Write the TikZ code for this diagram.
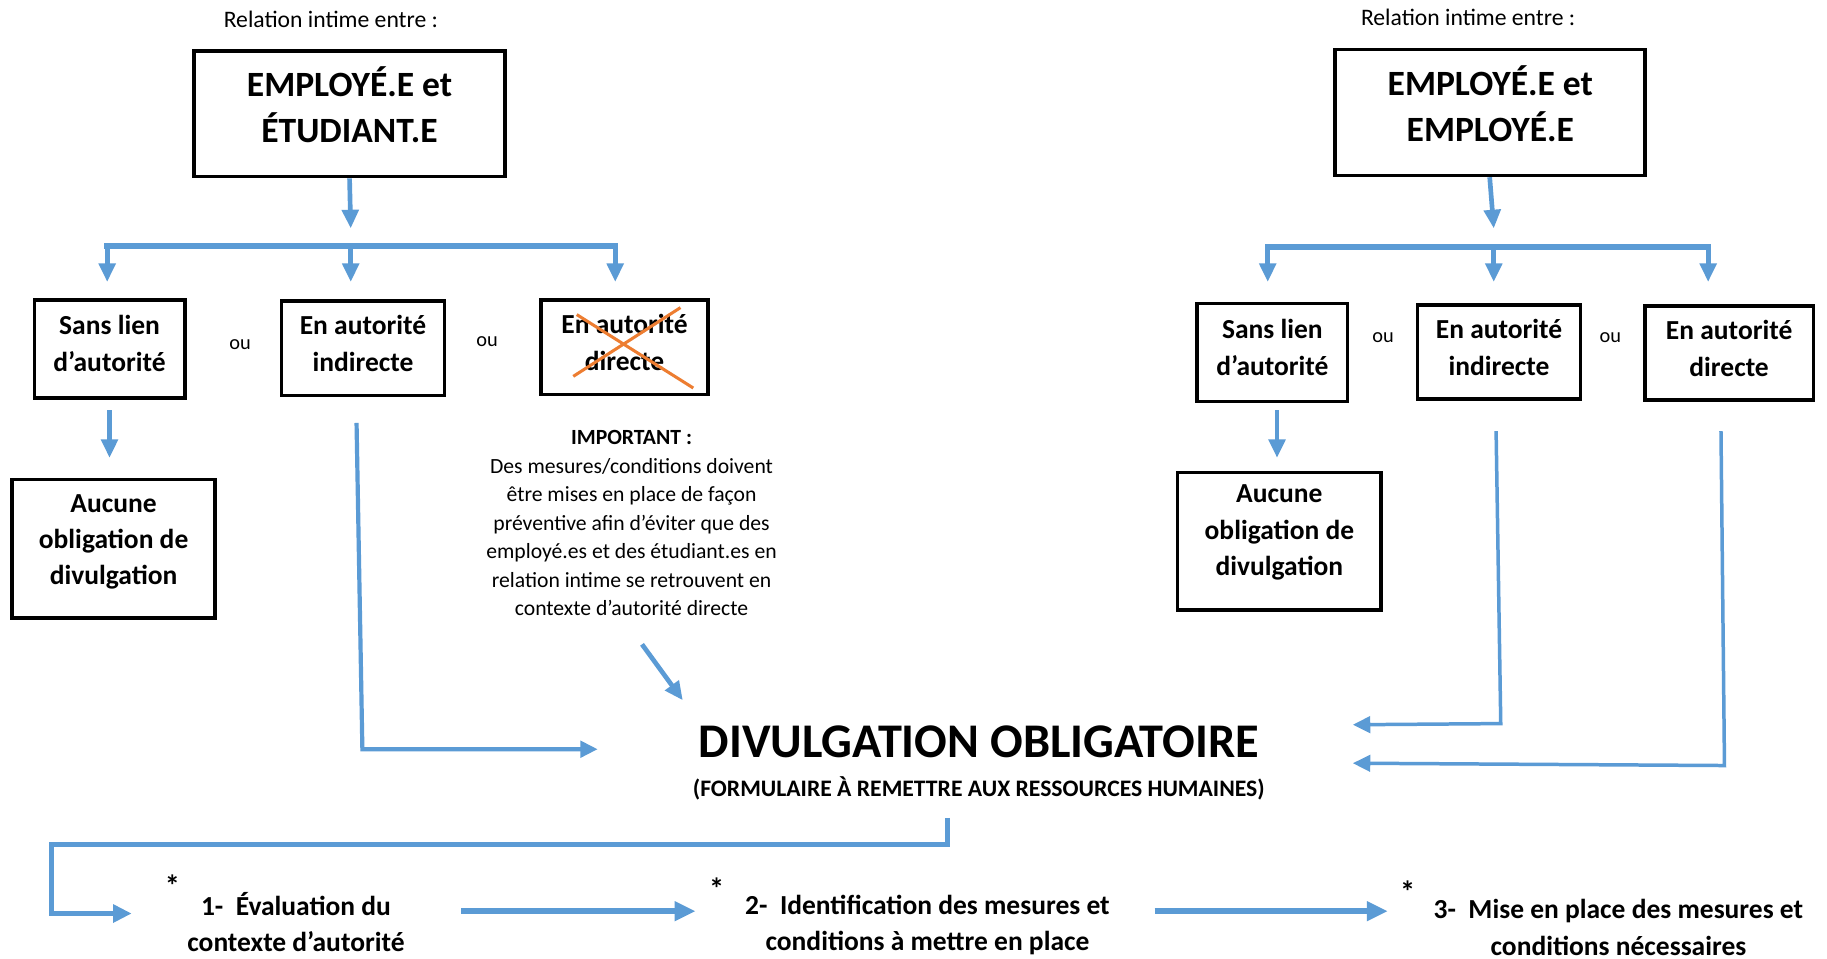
\documentclass[tikz,border=0pt]{standalone}
\usepackage{fontspec}
\setmainfont{Carlito}
\usetikzlibrary{arrows.meta}
\definecolor{blu}{HTML}{5B9BD5}
\definecolor{orng}{HTML}{ED7D31}
\begin{document}
\begin{tikzpicture}[x=1pt,y=-1pt,
  box/.style={draw=black,line width=3.2pt,inner sep=0pt},
  bigt/.style={font=\bfseries\fontsize{30.5}{40}\selectfont,align=center,inner sep=0pt},
  midt/.style={font=\bfseries\fontsize{23.6}{32}\selectfont,align=center,inner sep=0pt},
  smallt/.style={font=\fontsize{20.3}{22}\selectfont,inner sep=0pt},
  outext/.style={font=\fontsize{17.5}{20}\selectfont,inner sep=0pt},
  stept/.style={font=\bfseries\fontsize{23.6}{31}\selectfont,align=center,inner sep=0pt},
  star/.style={font=\bfseries\fontsize{26}{26}\selectfont,inner sep=0pt},
  arr/.style={draw=blu,line width=4pt,-{Triangle[length=16pt,width=14pt]}},
  bar/.style={draw=blu,line width=5pt,line cap=rect},
  lnarr/.style={draw=blu,line width=3.6pt,line join=miter,-{Triangle[length=15pt,width=14pt]}},
  bigarr/.style={draw=blu,line width=5.5pt,-{Triangle[length=18pt,width=16pt]}},
  cross/.style={draw=orng,line width=2.6pt}]
\useasboundingbox (0,0) rectangle (1568,823);
\fill[white] (0,0) rectangle (1568,823);

% ---------------- left tree ----------------
\node[smallt] (Lrel) at (284,17) {Relation intime entre :};
\node[box,minimum width=267pt,minimum height=108pt] (L1) at (300,97.5) {};
\node[bigt] (L1t) at (300,90) {EMPLOYÉ.E et\\ÉTUDIANT.E};

\node[box,minimum width=129pt,minimum height=84pt] (L2a) at (94,299.5) {};
\node[midt] (L2at) at (94,295) {Sans lien\\d’autorité};
\node[outext] (Lou1) at (206,296) {ou};
\node[box,minimum width=140pt,minimum height=81pt] (L2b) at (311.5,299) {};
\node[midt] (L2bt) at (311.5,295) {En autorité\\indirecte};
\node[outext] (Lou2) at (418,293) {ou};
\node[box,minimum width=143pt,minimum height=81pt] (L2c) at (536,298) {};
\node[midt] (L2ct) at (536,294) {En autorité\\directe};
\draw[cross] (495,270) -- (595,333);
\draw[cross] (492,323) -- (584,264);

\node[box,minimum width=174pt,minimum height=119pt] (L3) at (97.5,471) {};
\node[midt,font=\bfseries\fontsize{23.6}{31}\selectfont] (L3t) at (97.5,465) {Aucune\\obligation de\\divulgation};

\coordinate (Lsplit) at (301,196);
\draw[arr] (L1.south) -- (Lsplit);
\coordinate (Lb1) at (92,211);
\coordinate (Lb2) at (301,211);
\coordinate (Lb3) at (528,211);
\draw[bar] (Lb1) -- (Lb3);
\coordinate (La1) at (92,242);
\coordinate (La2) at (301,242);
\coordinate (La3) at (528,242);
\draw[arr] (Lb1) -- (La1);
\draw[arr] (Lb2) -- (La2);
\draw[arr] (Lb3) -- (La3);
\coordinate (Ld1) at (94,352);
\coordinate (Ld2) at (94,393);
\draw[arr] (Ld1) -- (Ld2);

\coordinate (Li1) at (306,363);
\coordinate (Li2) at (311,643);
\coordinate (Li3) at (513,643);
\draw[lnarr] (Li1) -- (Li2) -- (Li3);

\node[font=\fontsize{18.6}{24.4}\selectfont,align=center,inner sep=0pt] (Imp) at (542,449)
 {\textbf{IMPORTANT :}\\Des mesures/conditions doivent\\être mises en place de façon\\préventive afin d’éviter que des\\employé.es et des étudiant.es en\\relation intime se retrouvent en\\contexte d’autorité directe};
\coordinate (Ia1) at (551,553);
\coordinate (Ia2) at (586,601);
\draw[arr] (Ia1) -- (Ia2);

% ---------------- centre ----------------
\node[font=\bfseries\fontsize{41.5}{44}\selectfont,inner sep=0pt] (Div) at (840,637) {DIVULGATION OBLIGATOIRE};
\node[font=\bfseries\fontsize{20.3}{22}\selectfont,inner sep=0pt] (Form) at (840,677) {(FORMULAIRE À REMETTRE AUX RESSOURCES HUMAINES)};

% ---------------- right tree ----------------
\node[smallt] (Rrel) at (1260,15) {Relation intime entre :};
\node[box,minimum width=266pt,minimum height=108pt] (R1) at (1278.5,96.5) {};
\node[bigt] (R1t) at (1279,89) {EMPLOYÉ.E et\\EMPLOYÉ.E};

\node[box,minimum width=129pt,minimum height=84pt] (R2a) at (1092,302.5) {};
\node[midt] (R2at) at (1092,298) {Sans lien\\d’autorité};
\node[outext] (Rou1) at (1187,290) {ou};
\node[box,minimum width=140pt,minimum height=81pt] (R2b) at (1286.5,302) {};
\node[midt] (R2bt) at (1286.5,298) {En autorité\\indirecte};
\node[outext] (Rou2) at (1382,290) {ou};
\node[box,minimum width=145pt,minimum height=81pt] (R2c) at (1484,303) {};
\node[midt] (R2ct) at (1484,299) {En autorité\\directe};

\node[box,minimum width=175pt,minimum height=118pt] (R3) at (1098,464.5) {};
\node[midt,font=\bfseries\fontsize{23.6}{31}\selectfont] (R3t) at (1098,457) {Aucune\\obligation de\\divulgation};

\coordinate (Rsplit) at (1282,196);
\draw[arr] (R1.south) -- (Rsplit);
\coordinate (Rb1) at (1088,212);
\coordinate (Rb2) at (1282,212);
\coordinate (Rb3) at (1466,212);
\draw[bar] (Rb1) -- (Rb3);
\coordinate (Ra1) at (1088,242);
\coordinate (Ra2) at (1282,242);
\coordinate (Ra3) at (1466,242);
\draw[arr] (Rb1) -- (Ra1);
\draw[arr] (Rb2) -- (Ra2);
\draw[arr] (Rb3) -- (Ra3);
\coordinate (Rd1) at (1096,352);
\coordinate (Rd2) at (1096,393);
\draw[arr] (Rd1) -- (Rd2);

\coordinate (Ri1) at (1284,370);
\coordinate (Ri2) at (1288,621);
\coordinate (Ri3) at (1161,622);
\draw[lnarr,line width=3pt] (Ri1) -- (Ri2) -- (Ri3);
\coordinate (Rj1) at (1477,370);
\coordinate (Rj2) at (1480,657);
\coordinate (Rj3) at (1161,655);
\draw[lnarr,line width=3pt] (Rj1) -- (Rj2) -- (Rj3);

% ---------------- bottom ----------------
\coordinate (b0) at (813,702);
\coordinate (b1) at (813,725);
\coordinate (b2) at (44,725);
\coordinate (b3) at (44,784);
\coordinate (b4) at (113,784);
\draw[lnarr,line width=4.2pt,-{Triangle[length=16pt,width=15pt]}] (b0) -- (b1) -- (b2) -- (b3) -- (b4);

\node[star] (St1) at (148,760) {*};
\node[stept] (S1) at (254,791) {1-\ \ Évaluation du\\contexte d’autorité};
\node[star] (St2) at (615,763) {*};
\node[stept] (S2) at (796,794) {2-\ \ Identification des mesures et\\conditions à mettre en place};
\node[star] (St3) at (1208,765) {*};
\node[stept] (S3) at (1389,796) {3-\ \ Mise en place des mesures et\\conditions nécessaires};

\coordinate (s1a) at (396,782);
\coordinate (s1b) at (597,782);
\draw[bigarr] (s1a) -- (s1b);
\coordinate (s2a) at (991,782);
\coordinate (s2b) at (1191,782);
\draw[bigarr] (s2a) -- (s2b);
\end{tikzpicture}
\end{document}
